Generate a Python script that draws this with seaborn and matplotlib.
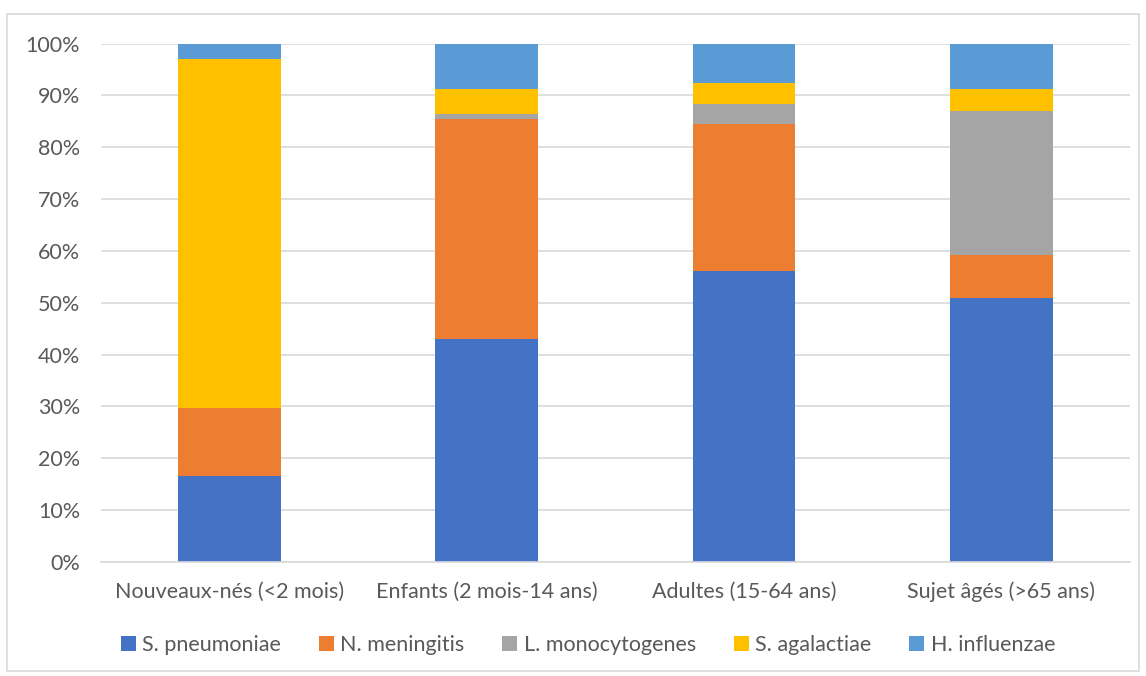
import matplotlib
matplotlib.use("Agg")
import matplotlib.pyplot as plt
import seaborn as sns
import pandas as pd
import numpy as np
from matplotlib.patches import Rectangle

categories = ["Nouveaux-nés (<2 mois)", "Enfants (2 mois-14 ans)", "Adultes (15-64 ans)", "Sujet âgés (>65 ans)"]
series_names = ["S. pneumoniae", "N. meningitis", "L. monocytogenes", "S. agalactiae", "H. influenzae"]
s_pneumoniae = [16.6, 43.0, 56.1, 50.9]
n_meningitis = [13.1, 42.4, 28.3, 8.3]
l_monocytogenes = [0.0, 1.0, 4.0, 27.8]
s_agalactiae = [67.4, 4.8, 3.9, 4.3]
h_influenzae = [2.9, 8.8, 7.7, 8.7]
colors = ["#4472C4", "#ED7D31", "#A5A5A5", "#FFC000", "#5B9BD5"]

sns.set_theme(style="white")
plt.rcParams['font.family'] = ['Lato', 'DejaVu Sans']
text_color = "#595959"
fs = 15.5

fig = plt.figure(figsize=(11.46, 6.76), dpi=100)
ax = fig.add_axes([0.088, 0.1686, 0.898, 0.767])

values = [s_pneumoniae, n_meningitis, l_monocytogenes, s_agalactiae, h_influenzae]
bottom = np.zeros(len(categories))
for name, vals, col in zip(series_names, values, colors):
    df = pd.DataFrame({"cat": categories, "val": vals})
    sns.barplot(data=df, x="cat", y="val", bottom=bottom, color=col, width=0.4,
                ax=ax, label=name, saturation=1, linewidth=0)
    bottom = bottom + np.array(vals)

if ax.get_legend() is not None:
    ax.get_legend().remove()

ax.set_ylim(0, 100)
ax.set_xlim(-0.5, 3.5)
ax.set_yticks(np.arange(0, 101, 10))
ax.set_yticklabels([f"{v}%" for v in range(0, 101, 10)])
ax.yaxis.grid(True, color="#D9D9D9", linewidth=1.2)
ax.set_axisbelow(True)
for s in ["left", "right", "top"]:
    ax.spines[s].set_visible(False)
ax.spines["bottom"].set_color("#D9D9D9")
ax.spines["bottom"].set_linewidth(1.2)
ax.set_xlabel("")
ax.set_ylabel("")
ax.tick_params(axis="x", length=0, labelsize=fs, colors=text_color, pad=14)
ax.tick_params(axis="y", length=0, labelsize=fs, colors=text_color, pad=15)

handles, labels = ax.get_legend_handles_labels()
leg = fig.legend(handles, labels, loc="center", bbox_to_anchor=(0.513, 0.046), ncol=5,
                 frameon=False, fontsize=fs, handlelength=0.7, handleheight=0.7,
                 handletextpad=0.3, columnspacing=1.75)
for t in leg.get_texts():
    t.set_color(text_color)

fig.patches.append(Rectangle((0.006, 0.008), 0.988, 0.972, transform=fig.transFigure,
                             fill=False, edgecolor="#D9D9D9", linewidth=1.2))

fig.savefig("out.png", dpi=100)
